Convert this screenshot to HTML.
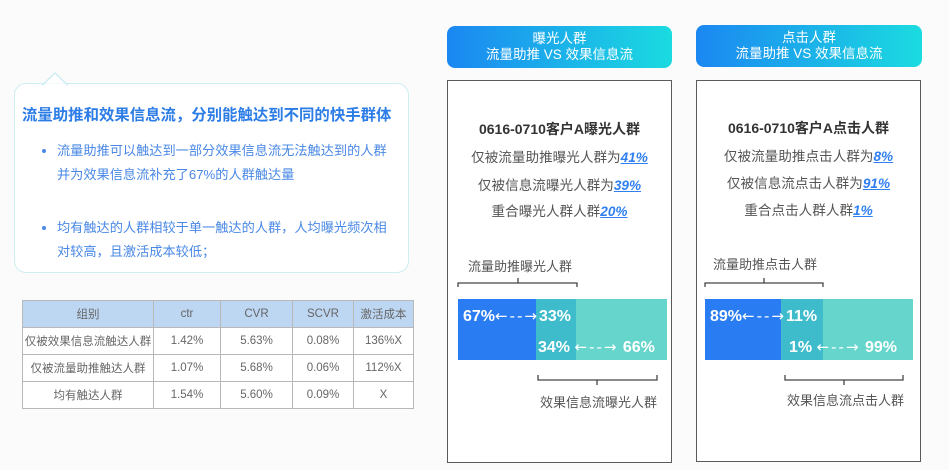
<!DOCTYPE html>
<html><head><meta charset="utf-8">
<style>
*{margin:0;padding:0;box-sizing:border-box}
body{width:949px;height:470px;background:#fbfbfb;position:relative;overflow:hidden;font-family:"Liberation Sans","Noto Sans CJK SC",sans-serif}
.abs{position:absolute}
.callout{left:14px;top:83px;width:395px;height:190px;border:1.5px solid #cdeef2;border-radius:12px;background:#fff}
.ttl{left:22px;top:103px;font-size:15.4px;font-weight:bold;color:#2b7ce6;white-space:nowrap;letter-spacing:0px}
.bl{font-size:13.2px;color:#4a88e6;white-space:nowrap;line-height:24px}
.dot{width:4px;height:4px;border-radius:50%;background:#4a88e6}
table{position:absolute;left:22px;top:300px;border-collapse:collapse;font-size:11.5px;color:#666;table-layout:fixed}
td{border:1px solid #b8b8b8;text-align:center;height:27px;padding:0;background:#fff;white-space:nowrap;overflow:hidden}
tr.h td{background:#bdd6f2}
.hdr{border-radius:8px;background:linear-gradient(90deg,#1b87f2,#1bdbe0);color:#fff;text-align:center;font-size:13.5px;line-height:16px;padding-top:5px;white-space:nowrap}
.box{border:1.5px solid #5a5a5a;background:#fff}
.t1{font-size:14px;font-weight:bold;color:#333;white-space:nowrap;text-align:center}
.ln{font-size:13.6px;color:#555;white-space:nowrap;text-align:center}
.ln b{color:#2f7ff0;font-style:italic;text-decoration:underline}
.seg{height:61px}
.pw{color:#fff;font-weight:bold;font-size:16px;white-space:nowrap}
.ar{font-family:"DejaVu Sans",sans-serif;font-weight:normal;font-size:15px;letter-spacing:2px}
.lab{font-size:13px;color:#555;white-space:nowrap}
</style></head><body>

<!-- callout -->
<div class="abs callout"></div>
<svg class="abs" style="left:40px;top:70px" width="30" height="16"><polygon points="3,14.5 15,3 27,14.5" fill="#fff" stroke="#cdeef2" stroke-width="1.5"/><rect x="4" y="14" width="22" height="3" fill="#fff"/></svg>
<div class="abs ttl">流量助推和效果信息流，分别能触达到不同的快手群体</div>
<div class="abs dot" style="left:42px;top:149px"></div>
<div class="abs bl" style="left:57px;top:139px">流量助推可以触达到一部分效果信息流无法触达到的人群<br>并为效果信息流补充了67%的人群触达量</div>
<div class="abs dot" style="left:42px;top:226px"></div>
<div class="abs bl" style="left:57px;top:216px">均有触达的人群相较于单一触达的人群，人均曝光频次相<br>对较高，且激活成本较低；</div>

<table>
<colgroup><col style="width:131px"><col style="width:67px"><col style="width:72px"><col style="width:61px"><col style="width:60px"></colgroup>
<tr class="h"><td>组别</td><td>ctr</td><td>CVR</td><td>SCVR</td><td>激活成本</td></tr>
<tr><td>仅被效果信息流触达人群</td><td>1.42%</td><td>5.63%</td><td>0.08%</td><td>136%X</td></tr>
<tr><td>仅被流量助推触达人群</td><td>1.07%</td><td>5.68%</td><td>0.06%</td><td>112%X</td></tr>
<tr><td>均有触达人群</td><td>1.54%</td><td>5.60%</td><td>0.09%</td><td>X</td></tr>
</table>

<!-- panel 1 -->
<div class="abs hdr" style="left:447px;top:26px;width:225px;height:42px">曝光人群<br>流量助推 VS 效果信息流</div>
<div class="abs box" style="left:447px;top:80px;width:225px;height:383px"></div>
<div class="abs t1" style="left:447px;top:119px;width:225px">0616-0710客户A曝光人群</div>
<div class="abs ln" style="left:447px;top:146px;width:225px">仅被流量助推曝光人群为<b>41%</b></div>
<div class="abs ln" style="left:447px;top:174px;width:225px">仅被信息流曝光人群为<b>39%</b></div>
<div class="abs ln" style="left:447px;top:200px;width:225px">重合曝光人群人群<b>20%</b></div>
<div class="abs lab" style="left:468px;top:256px">流量助推曝光人群</div>
<svg class="abs" style="left:455px;top:276px" width="130" height="14"><path d="M3,11 L3,7 L122,7 L122,11 M63,7 L63,2" fill="none" stroke="#444" stroke-width="1.3"/></svg>
<div class="abs seg" style="left:458px;top:299px;width:78px;background:#2a7cf2"></div>
<div class="abs seg" style="left:536px;top:299px;width:40px;background:#3fbccc"></div>
<div class="abs seg" style="left:576px;top:299px;width:91px;background:#66d5cb"></div>
<div class="abs pw" style="left:463px;top:307px">67%<span class="ar">←--→</span>33%</div>
<div class="abs pw" style="left:538px;top:338px">34% <span class="ar">←--→</span> 66%</div>
<svg class="abs" style="left:535px;top:372px" width="130" height="16"><path d="M3,3 L3,8 L122,8 L122,3 M62,8 L62,13" fill="none" stroke="#444" stroke-width="1.3"/></svg>
<div class="abs lab" style="left:540px;top:392px">效果信息流曝光人群</div>

<!-- panel 2 -->
<div class="abs hdr" style="left:696px;top:25px;width:226px;height:42px">点击人群<br>流量助推 VS 效果信息流</div>
<div class="abs box" style="left:696px;top:80px;width:225px;height:382px"></div>
<div class="abs t1" style="left:696px;top:118px;width:225px">0616-0710客户A点击人群</div>
<div class="abs ln" style="left:696px;top:145px;width:225px">仅被流量助推点击人群为<b>8%</b></div>
<div class="abs ln" style="left:696px;top:172px;width:225px">仅被信息流点击人群为<b>91%</b></div>
<div class="abs ln" style="left:696px;top:199px;width:225px">重合点击人群人群<b>1%</b></div>
<div class="abs lab" style="left:713px;top:254px">流量助推点击人群</div>
<svg class="abs" style="left:702px;top:276px" width="130" height="14"><path d="M3,11 L3,7 L121,7 L121,11 M62,7 L62,2" fill="none" stroke="#444" stroke-width="1.3"/></svg>
<div class="abs seg" style="left:705px;top:299px;width:76px;background:#2a7cf2"></div>
<div class="abs seg" style="left:781px;top:299px;width:42px;background:#3fbccc"></div>
<div class="abs seg" style="left:823px;top:299px;width:90px;background:#66d5cb"></div>
<div class="abs pw" style="left:710px;top:307px">89%<span class="ar">←--→</span>11%</div>
<div class="abs pw" style="left:789px;top:338px">1% <span class="ar">←--→</span> 99%</div>
<svg class="abs" style="left:782px;top:372px" width="130" height="16"><path d="M3,3 L3,8 L121,8 L121,3 M62,8 L62,13" fill="none" stroke="#444" stroke-width="1.3"/></svg>
<div class="abs lab" style="left:787px;top:390px">效果信息流点击人群</div>

</body></html>
